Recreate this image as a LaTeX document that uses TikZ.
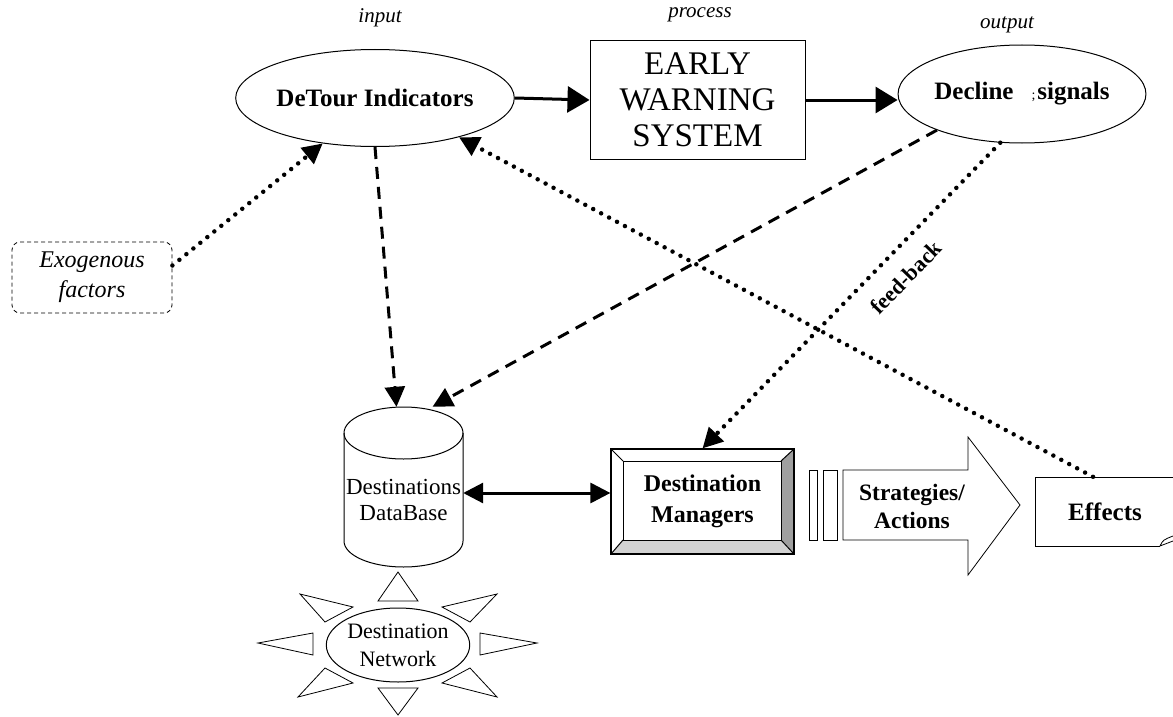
\documentclass[tikz,border=0pt]{standalone}
\usepackage{fontspec}
\setmainfont{Liberation Serif}
\usetikzlibrary{arrows.meta,shapes.geometric}
\begin{document}
\begin{tikzpicture}[x=1pt,y=-1pt,
  lbl/.style={font=\fontsize{21}{23}\selectfont\itshape},
  oval/.style={draw, line width=1pt, ellipse, inner sep=0pt},
  bt/.style={font=\fontsize{25}{28}\selectfont\bfseries, align=center},
  rt/.style={font=\fontsize{23}{27}\selectfont, align=center},
  tipa/.style={-{Triangle[length=20pt,width=20pt]}},
  tipb/.style={-{Triangle[length=22pt,width=26pt]}},
  solidarr/.style={tipb, line width=3pt},
  dasharr/.style={tipa, line width=3pt, dash pattern=on 12pt off 8pt},
  dotarr/.style={tipa, line width=4.5pt, line cap=round, dash pattern=on 0pt off 9pt},
  ray/.style={draw, line width=0.8pt, fill=white},
]
\useasboundingbox (0,0) rectangle (1173,717);

% top labels
\node[lbl] (lin) at (380,18) {input};
\node[lbl] (lpr) at (700,15) {process};
\node[lbl] (lout) at (1007,25) {output};

% main nodes
\node[oval, minimum width=214pt, minimum height=97pt, bt] (det) at (375,98) {DeTour Indicators};
\node[draw, line width=1pt, minimum width=215pt, minimum height=118pt, inner sep=0pt,
      font=\fontsize{33}{36}\selectfont, align=center] (ews) at (697.5,100) {EARLY\\WARNING\\SYSTEM};
\node[oval, minimum width=215pt, minimum height=98pt, bt] (dec) at (1022,94)
  {Decline\hspace{18pt}{\mdseries\fontsize{14}{14}\selectfont;}\hspace{2pt}signals};

\node[draw, dash pattern=on 4pt off 3pt, rounded corners=8pt, line width=0.8pt,
      minimum width=160pt, minimum height=71pt, inner sep=0pt,
      font=\fontsize{24}{30}\selectfont\itshape, align=center] (exo) at (92,277.5) {Exogenous\\factors};

% database cylinder
\node[minimum width=119pt, minimum height=160pt, inner sep=0pt] (db) at (403.5,487) {};
\filldraw[fill=white, line width=1pt] (344,433) -- (344,541)
  arc[start angle=180, end angle=360, x radius=59.5pt, y radius=26pt] -- (463,433);
\draw[line width=1pt] (403.5,433) ellipse[x radius=59.5pt, y radius=26pt];
\node[rt, font=\fontsize{23}{26}\selectfont] (dbt) at (403.5,500) {Destinations\\DataBase};

% destination managers bevel box
\node[draw, line width=1.2pt, minimum width=183pt, minimum height=105pt, inner sep=0pt,
      font=\fontsize{24}{31}\selectfont\bfseries, align=center] (mgr) at (702.5,501.5) {Destination\\Managers};
\fill[gray!75] (794,449) -- (794,554) -- (781,540) -- (781,461) -- cycle;
\fill[gray!35] (611,554) -- (794,554) -- (781,540) -- (623,540) -- cycle;
\draw[line width=1pt] (623,461) rectangle (781,540);
\draw[line width=1pt] (611,449) -- (623,461) (794,449) -- (781,461)
  (611,554) -- (623,540) (794,554) -- (781,540);
\draw[line width=1.2pt] (611,449) rectangle (794,554);

% strategies arrow
\draw[line width=1pt] (809,470) rectangle (817,540);
\draw[line width=1pt] (823,470) rectangle (837,540);
\draw[line width=0.8pt] (843,470) -- (968,470) -- (968,437) -- (1020,505) -- (968,575)
  -- (968,540) -- (843,540) -- cycle;
\node[font=\fontsize{23.5}{28}\selectfont\bfseries, align=center] (strat) at (912,506) {Strategies/\\Actions};

% effects
\node[minimum width=138pt, minimum height=69pt, inner sep=0pt,
      font=\fontsize{25}{28}\selectfont\bfseries] (eff) at (1105,511.5) {Effects};
\draw[line width=1pt] (1176,477) -- (1035,477) -- (1035,546) -- (1160,546);
\draw[line width=0.8pt] (1160,546) .. controls (1163,540) .. (1173,536)
  (1160,546) .. controls (1166,544) .. (1173,541);

% destination network sun
\node[oval, minimum width=140pt, minimum height=74pt, font=\fontsize{22}{28}\selectfont, align=center]
  (net) at (398,645) {Destination\\Network};
\path[ray] (378,601) -- (418,601) -- (398,572) -- cycle;
\path[ray] (378,688) -- (418,688) -- (398,715) -- cycle;
\path[ray] (313,633) -- (313,655) -- (258,643) -- cycle;
\path[ray] (480,633) -- (480,655) -- (537,643) -- cycle;
\path[ray] (300,594) -- (353,607) -- (325,622) -- cycle;
\path[ray] (497,594) -- (442,607) -- (470,622) -- cycle;
\path[ray] (298,697) -- (325,668) -- (353,683) -- cycle;
\path[ray] (497,697) -- (470,668) -- (442,683) -- cycle;

% connectors
\draw[solidarr] (det.east) -- (ews.west);
\draw[solidarr] (ews.east) -- (ews.east -| dec.west);
\draw[dotarr] ([yshift=12pt]exo.east) -- (det.221);
\draw[dasharr] (det.south) -- ([xshift=-7pt]db.north);
\draw[dasharr] (dec.203) -- ([xshift=29pt]db.north);
\draw[dotarr] (dec.246) -- node[sloped, below=13pt, pos=.38, font=\fontsize{22}{24}\selectfont\bfseries] (fb) {feed-back} (mgr.north);
\draw[dotarr] ([xshift=-12pt]eff.north) -- (det.335);
\draw[{Triangle[length=20pt,width=20pt]}-{Triangle[length=20pt,width=20pt]}, line width=3pt]
  ([yshift=-6pt]db.east) -- ([yshift=8.5pt]mgr.west);
\end{tikzpicture}
\end{document}
